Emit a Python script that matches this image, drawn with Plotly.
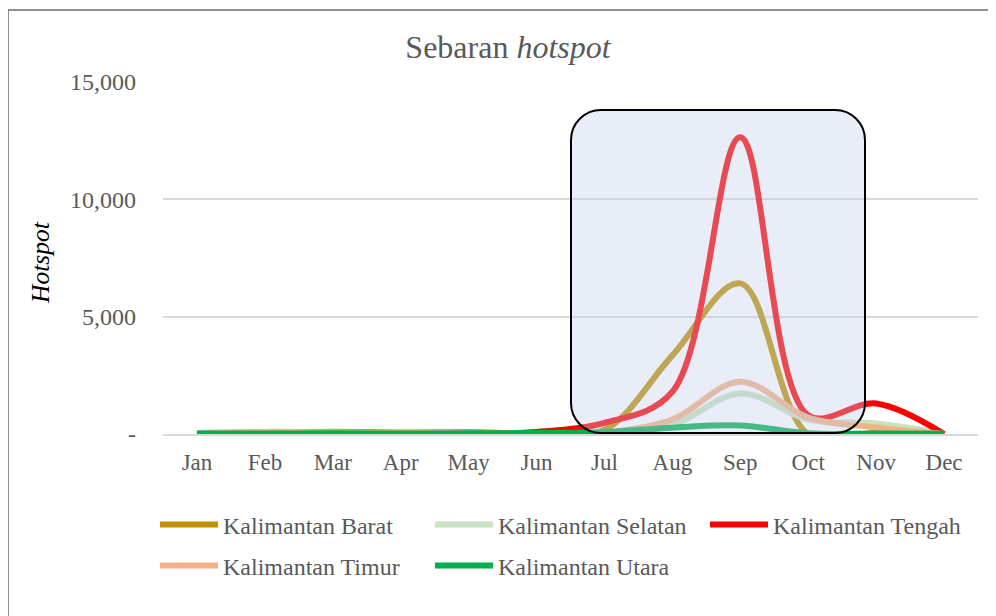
import plotly.graph_objects as go

months = ["Jan", "Feb", "Mar", "Apr", "May", "Jun", "Jul", "Aug", "Sep", "Oct", "Nov", "Dec"]

kalbar = [30, 60, 100, 60, 80, 40, 180, 3350, 6420, 0, 40, 0]
kalsel = [20, 30, 30, 20, 30, 30, 60, 380, 1730, 620, 450, 20]
kalteng = [40, 50, 60, 40, 40, 90, 470, 1800, 12650, 800, 1300, 0]
kaltim = [40, 90, 70, 50, 50, 30, 60, 620, 2230, 700, 280, 10]
kaltara = [20, 20, 30, 20, 30, 40, 80, 270, 360, 30, 20, 10]

series = [
    ("Kalimantan Barat", kalbar, "#BF9000", "legend"),
    ("Kalimantan Selatan", kalsel, "#C9E2BF", "legend"),
    ("Kalimantan Tengah", kalteng, "#FF0000", "legend"),
    ("Kalimantan Timur", kaltim, "#F4B183", "legend2"),
    ("Kalimantan Utara", kaltara, "#00B050", "legend2"),
]

y_ticks = [0, 5000, 10000, 15000]
y_ticktext = ["-", "5,000", "10,000", "15,000"]

FONT = "Liberation Serif"
GREY = "#595959"

fig = go.Figure()
for name, vals, color, lg in series:
    fig.add_trace(go.Scatter(
        x=months, y=vals, name=name, mode="lines",
        line=dict(color=color, width=6, shape="spline", smoothing=1.0),
        legend=lg,
    ))

OFF = 8  # page body margin
W, H = 996, 616
L, T = 163 - OFF, 82 - OFF
R, B = W - (978 - OFF), H - (434 - OFF)
pw, ph = W - L - R, H - T - B


def px_to_paper(xp, yp):
    """Reference-screenshot pixel -> paper coordinates."""
    return (xp - OFF - L) / pw, (H - B - (yp - OFF)) / ph


# highlight box (rounded rectangle)
x0, y1 = px_to_paper(571, 110)
x1, y0 = px_to_paper(865, 433)
r = 30
rx, ry = r / pw, r / ph
k = 0.5523
path = (
    f"M {x0+rx},{y1} L {x1-rx},{y1} "
    f"C {x1-rx+k*rx},{y1} {x1},{y1-ry+k*ry} {x1},{y1-ry} "
    f"L {x1},{y0+ry} "
    f"C {x1},{y0+ry-k*ry} {x1-rx+k*rx},{y0} {x1-rx},{y0} "
    f"L {x0+rx},{y0} "
    f"C {x0+rx-k*rx},{y0} {x0},{y0+ry-k*ry} {x0},{y0+ry} "
    f"L {x0},{y1-ry} "
    f"C {x0},{y1-ry+k*ry} {x0+rx-k*rx},{y1} {x0+rx},{y1} Z"
)
fig.add_shape(type="path", path=path, xref="paper", yref="paper",
              fillcolor="rgba(190,205,232,0.36)",
              line=dict(color="black", width=2), layer="above")

# outer chart border
bx0, by1 = px_to_paper(8, 10)
bx1, by0 = px_to_paper(1010, 640)
fig.add_shape(type="rect", xref="paper", yref="paper",
              x0=bx0, y0=by0, x1=bx1, y1=by1,
              line=dict(color="#6b6b6b", width=1.5), fillcolor="rgba(0,0,0,0)")

# y axis title
ax, ay = px_to_paper(40, 263)
fig.add_annotation(text="<i>Hotspot</i>", xref="paper", yref="paper",
                   x=ax, y=ay, xanchor="center", yanchor="middle",
                   showarrow=False, textangle=-90,
                   font=dict(family=FONT, size=25.5, color="black"))

lg1x, lg1y = px_to_paper(155, 525)
lg2x, lg2y = px_to_paper(155, 566)
legend_common = dict(orientation="h", font=dict(family=FONT, size=24, color=GREY),
                     entrywidth=202, entrywidthmode="pixels", itemwidth=58,
                     bgcolor="rgba(0,0,0,0)", xanchor="left", yanchor="middle",
                     itemclick=False)

fig.update_layout(
    width=W, height=H,
    margin=dict(l=L, r=R, t=T, b=B),
    paper_bgcolor="white", plot_bgcolor="white",
    font=dict(family=FONT, color=GREY),
    title=dict(text="Sebaran <i>hotspot</i>", x=(508 - OFF) / W, xanchor="center",
               y=1 - (47 - OFF) / H, yanchor="middle",
               font=dict(family=FONT, size=32, color=GREY)),
    xaxis=dict(type="category", categoryorder="array", categoryarray=months,
               range=[-0.5, 11.5], showgrid=False, showline=True,
               linecolor="#D9D9D9", linewidth=1.5, ticks="",
               tickfont=dict(family=FONT, size=23, color=GREY),
               ticklabelstandoff=7, fixedrange=True),
    yaxis=dict(range=[0, 15000], tickvals=y_ticks, ticktext=y_ticktext,
               showgrid=True, gridcolor="#D9D9D9", gridwidth=1.5,
               zeroline=False, ticks="", showline=False,
               tickfont=dict(family=FONT, size=24, color=GREY),
               ticklabelstandoff=26, fixedrange=True),
    legend=dict(x=lg1x, y=lg1y, **legend_common),
    legend2=dict(x=lg2x, y=lg2y, **legend_common),
    showlegend=True,
)

fig.write_html("out.html")
